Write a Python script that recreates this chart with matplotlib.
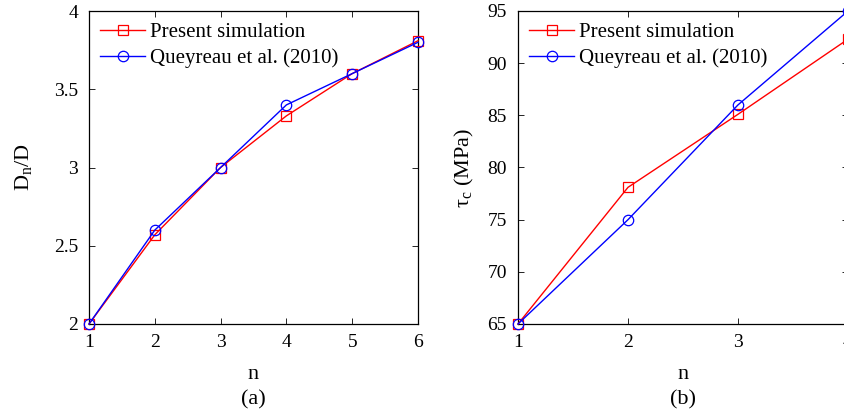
import matplotlib
matplotlib.use("Agg")
from matplotlib.pyplot import figure

matplotlib.rcParams["font.family"] = ["Liberation Serif", "DejaVu Serif"]
matplotlib.rcParams["mathtext.fontset"] = "custom"
matplotlib.rcParams["mathtext.rm"] = "Liberation Serif"
matplotlib.rcParams["mathtext.it"] = "Liberation Serif:italic"

# %% data
n_a = [1, 2, 3, 4, 5, 6]
present_a = [2.0, 2.57, 3.0, 3.33, 3.6, 3.81]
queyreau_a = [2.0, 2.6, 3.0, 3.4, 3.6, 3.8]

n_b = [1, 2, 3, 4]
present_b = [65.0, 78.1, 85.1, 92.3]
queyreau_b = [65.0, 75.0, 86.0, 95.0]

yticks_a = [2, 2.5, 3, 3.5, 4]
yticklabels_a = ["2", "2.5", "3", "3.5", "4"]
yticks_b = [65, 70, 75, 80, 85, 90, 95]

W, H = 845, 420
fg = figure(figsize=(W / 100, H / 100), dpi=100)


def box(x0, y0, x1, y1):
    return [x0 / W, 1 - y1 / H, (x1 - x0) / W, (y1 - y0) / H]


def style(ax):
    ax.tick_params(direction="in", top=True, right=True, labelsize=14, length=4, width=0.6)
    ax.tick_params(axis="y", pad=8)
    ax.tick_params(axis="x", pad=7)
    for s in ax.spines.values():
        s.set_linewidth(0.9)


def draw(ax, x, p, q):
    ax.plot(x, p, "-", color="red", lw=1.0, marker="s", ms=6.5, mfc="none", mew=0.9,
            label="Present simulation", clip_on=False, zorder=3)
    ax.plot(x, q, "-", color="blue", lw=1.0, marker="o", ms=7.5, mfc="none", mew=0.9,
            label="Queyreau et al. (2010)", clip_on=False, zorder=3)
    ax.legend(loc="upper left", frameon=False, fontsize=15, handlelength=2.15,
              handletextpad=0.25, borderaxespad=0.15, labelspacing=0.3)


# %% (a)
ax = fg.add_axes(box(89, 11, 418, 324))
draw(ax, n_a, present_a, queyreau_a)
ax.set_xlim(1, 6)
ax.set_ylim(2, 4)
ax.set_xticks(n_a)
ax.set_yticks(yticks_a)
ax.set_yticklabels(yticklabels_a)
style(ax)
ax.set_xlabel("n", fontsize=16, labelpad=10)
ax.set_ylabel(r"D$_\mathregular{n}$/D", fontsize=16, labelpad=14)
fg.text(253 / W, 1 - 400 / H, "(a)", ha="center", va="center", fontsize=16)

# %% (b)
ax = fg.add_axes(box(518, 11, 848, 324))
draw(ax, n_b, present_b, queyreau_b)
ax.set_xlim(1, 4)
ax.set_ylim(65, 95)
ax.set_xticks(n_b)
ax.set_yticks(yticks_b)
style(ax)
ax.set_xlabel("n", fontsize=16, labelpad=10)
ax.set_ylabel(r"τ$_\mathregular{c}$ (MPa)", fontsize=16, labelpad=8)
fg.text(683 / W, 1 - 400 / H, "(b)", ha="center", va="center", fontsize=16)

fg.savefig("out.png", dpi=100)
